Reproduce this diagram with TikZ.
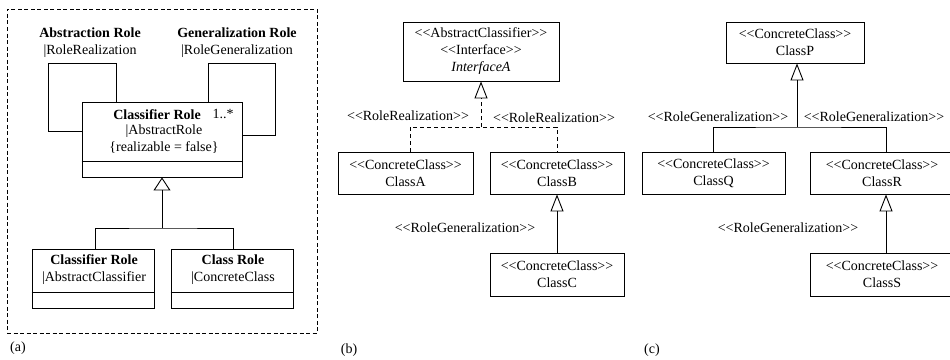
\documentclass[tikz,border=0pt]{standalone}
\usepackage{fontspec}
\setmainfont{Liberation Serif}
\usetikzlibrary{arrows.meta,calc}
% stereotype brackets, kept apart so they are not turned into guillemets
\newcommand{\ster}[1]{<{}<#1>{}>}
\begin{document}
\begin{tikzpicture}[x=1pt,y=-1pt,
  font=\fontsize{14}{17}\selectfont,
  line width=0.9pt,
  cls/.style={draw, rectangle, inner sep=0pt, align=center},
  lbl/.style={inner sep=0pt, align=center},
  gen/.style={-{Triangle[open,length=17pt,width=13pt]}},
  genwide/.style={-{Triangle[open,length=13pt,width=17pt]}},
  real/.style={dash pattern=on 4pt off 3pt},
  frame/.style={draw, rectangle, inner sep=0pt, dash pattern=on 4pt off 2.5pt, line width=0.8pt}
]
\useasboundingbox (0,0) rectangle (950,359);
\clip (0,0) rectangle (950,359);

% ---------- (a) role metamodel ----------
\node[frame, minimum width=310, minimum height=324] (fr) at (162,171) {};

\node[lbl] (absr) at (90,43) {\textbf{Abstraction Role}\\|RoleRealization};
\node[lbl] (genr) at (237,43) {\textbf{Generalization Role}\\|RoleGeneralization};

\node[cls, minimum width=160, minimum height=75] (crole) at (162,139.5) {};
\draw ($(crole.south west)+(0,-16)$) -- ($(crole.south east)+(0,-16)$);
\node[lbl] (crname) at (157,115) {\textbf{Classifier Role}};
\node[lbl] (crmult) at (223,114) {1..*};
\node[lbl] (crtxt) at (164,139) {|AbstractRole\\\{realizable = false\}};

% self associations
\draw (116,0 |- crole.north) -- (116,63) -- (48,63) -- (48,131) -- (crole.west |- 0,131);
\draw (208,0 |- crole.north) -- (208,63) -- (275,63) -- (275,135) -- (crole.east |- 0,135);

\node[cls, minimum width=122, minimum height=59] (clr) at (93,278.5) {};
\draw ($(clr.south west)+(0,-16)$) -- ($(clr.south east)+(0,-16)$);
\node[lbl] (clrtxt) at (94,270) {\textbf{Classifier Role}\\|AbstractClassifier};

\node[cls, minimum width=122, minimum height=59] (cla) at (232,278.5) {};
\draw ($(cla.south west)+(0,-16)$) -- ($(cla.south east)+(0,-16)$);
\node[lbl] (clatxt) at (233,270) {\textbf{Class Role}\\|ConcreteClass};

\coordinate (ja) at (crole.south |- 0,228);
\draw ($(clr.north)+(2,0)$) |- (ja) -| ($(cla.north)+(1,0)$);
\draw[genwide] (ja) -- (crole.south);

\node[lbl] (la) at (18,348) {(a)};

% ---------- (b) realization example ----------
\node[cls, minimum width=156, minimum height=59] (ifa) at (481,51.5)
  {\ster{AbstractClassifier}\\\ster{Interface}\\\textit{InterfaceA}};
\node[cls, minimum width=135, minimum height=42] (ca) at (405.5,173) {\ster{ConcreteClass}\\ClassA};
\node[cls, minimum width=134, minimum height=42] (cb) at (557,173) {\ster{ConcreteClass}\\ClassB};
\node[cls, minimum width=134, minimum height=43] (cc) at (557,274.5) {\ster{ConcreteClass}\\ClassC};

\coordinate (jb) at (ifa.south |- 0,127);
\draw[real] ($(ca.north)+(4.5,0)$) |- (jb) -| (cb.north);
\draw[real, gen] (jb) -- (ifa.south);
\draw[gen] (cc.north) -- (cb.south);

\node[lbl] (rr1) at (408,116) {\ster{RoleRealization}};
\node[lbl] (rr2) at (554,118) {\ster{RoleRealization}};
\node[lbl] (rg1) at (465,228) {\ster{RoleGeneralization}};

\node[lbl] (lb) at (349,350) {(b)};

% ---------- (c) generalization example ----------
\node[cls, minimum width=138, minimum height=41] (cp) at (795,42.5) {\ster{ConcreteClass}\\ClassP};
\node[cls, minimum width=143, minimum height=42] (cq) at (713.5,173) {\ster{ConcreteClass}\\ClassQ};
\node[cls, minimum width=144, minimum height=42] (cr) at (882,173) {\ster{ConcreteClass}\\ClassR};
\node[cls, minimum width=144, minimum height=43] (cs) at (882,274.5) {\ster{ConcreteClass}\\ClassS};

\coordinate (jc) at ($(cp.south |- 0,127)+(2,0)$);
\draw (cq.north) |- (jc) -| ($(cr.north)+(4,0)$);
\draw[gen] (jc) -- ($(cp.south)+(2,0)$);
\draw[gen] ($(cs.north)+(4,0)$) -- ($(cr.south)+(4,0)$);

\node[lbl] (rg2) at (718,117) {\ster{RoleGeneralization}};
\node[lbl] (rg3) at (874,117) {\ster{RoleGeneralization}};
\node[lbl] (rg4) at (788,228) {\ster{RoleGeneralization}};

\node[lbl] (lc) at (652,350) {(c)};
\end{tikzpicture}
\end{document}
